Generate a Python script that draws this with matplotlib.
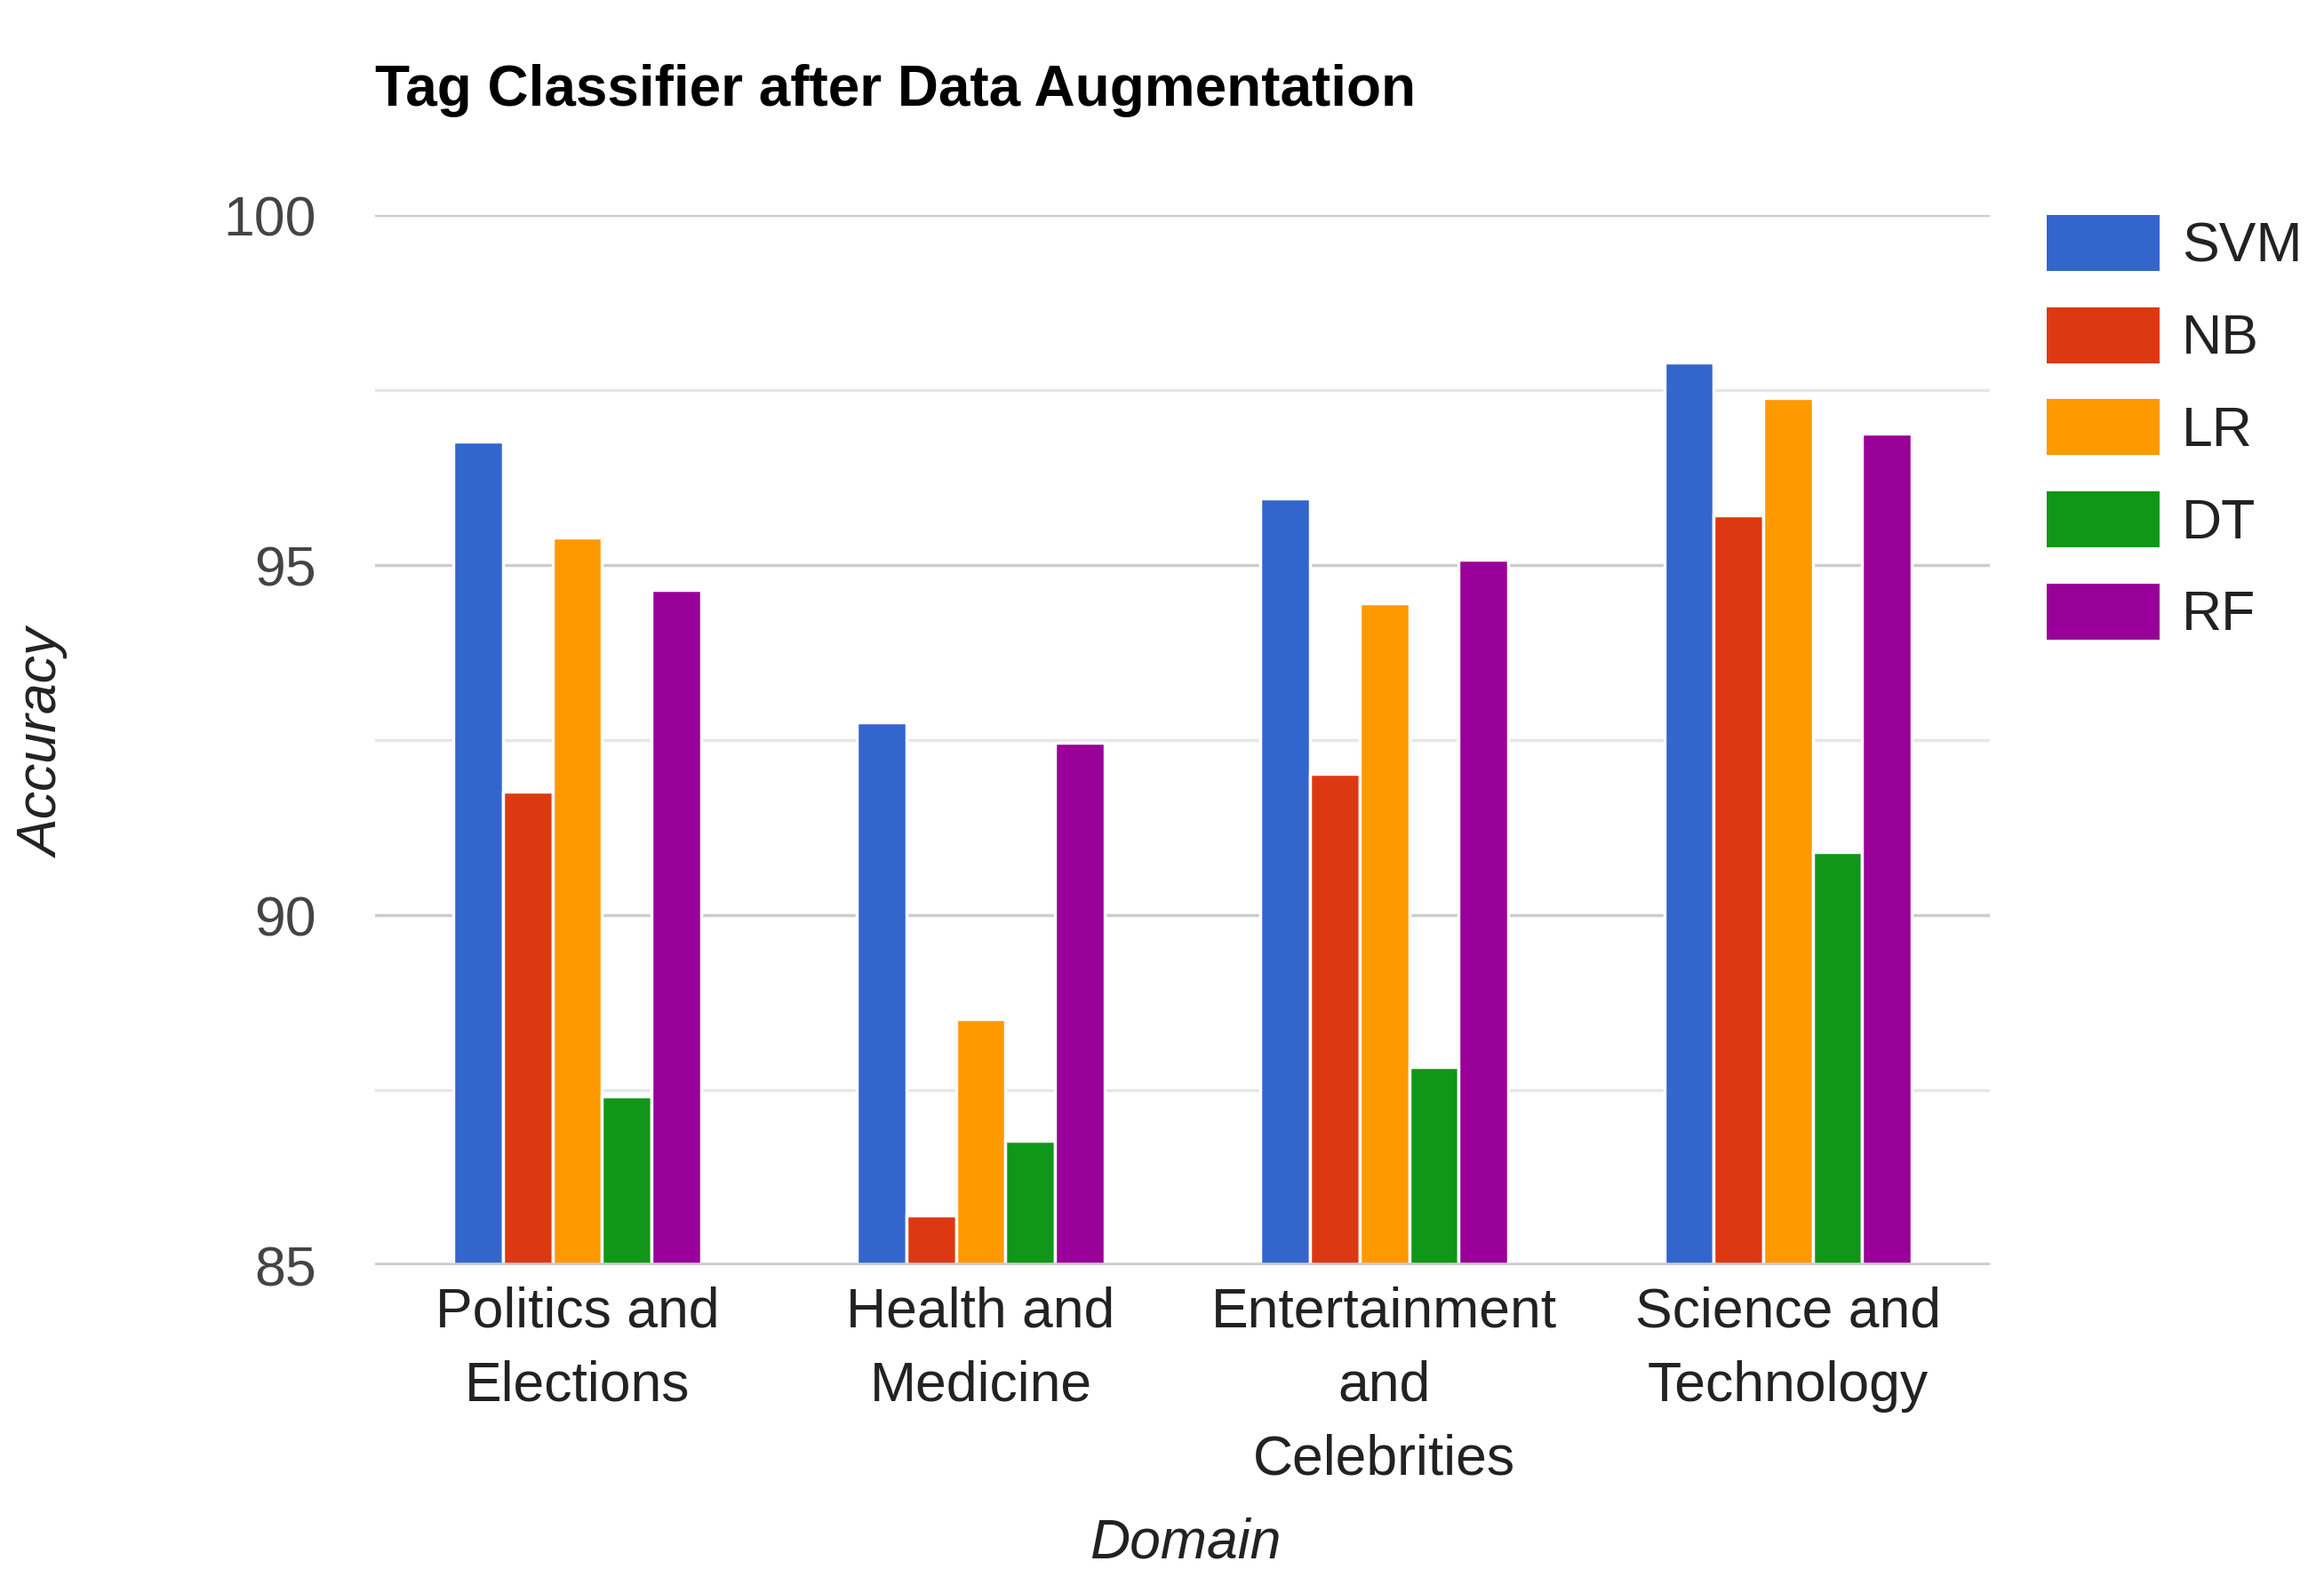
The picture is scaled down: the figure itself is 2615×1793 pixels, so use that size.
import matplotlib.pyplot as plt
import numpy as np
from matplotlib.patches import Patch

plt.rcParams['font.family'] = ['Liberation Sans', 'DejaVu Sans']

# Data
domains = ['Politics and\nElections', 'Health and\nMedicine',
           'Entertainment\nand\nCelebrities', 'Science and\nTechnology']
models = ['SVM', 'NB', 'LR', 'DT', 'RF']
svm = [96.77, 92.76, 95.95, 97.90]
nb = [91.77, 85.72, 92.02, 95.71]
lr = [95.40, 88.52, 94.46, 97.39]
dt = [87.42, 86.78, 87.84, 90.90]
rf = [94.65, 92.47, 95.08, 96.88]
series = [svm, nb, lr, dt, rf]
colors = ['#3366CC', '#DC3912', '#FF9900', '#109618', '#990099']

fig = plt.figure(figsize=(26.15, 17.93), dpi=100)
ax = fig.add_axes([0.1615, 0.2056, 0.6947, 0.6594])

x = np.arange(len(domains))
w = 0.1227
for i, (vals, c) in enumerate(zip(series, colors)):
    ax.bar(x + (i - 2) * w, np.array(vals) - 85, bottom=85, width=w,
           color=c, edgecolor='white', linewidth=2.5, zorder=3)

ax.set_xlim(-0.5, 3.5)
ax.set_ylim(85, 100)
ax.set_yticks([85, 90, 95, 100])
ax.set_yticks([87.5, 92.5, 97.5], minor=True)
ax.grid(axis='y', which='major', color='#cccccc', linewidth=2.5, zorder=0)
ax.grid(axis='y', which='minor', color='#e6e6e6', linewidth=2.5, zorder=0)
ax.axhline(85, color='#cccccc', linewidth=4, zorder=4)
for s in ax.spines.values():
    s.set_visible(False)
ax.tick_params(axis='y', which='both', length=0, pad=48, labelsize=45, labelcolor='#444444')
ax.tick_params(axis='x', length=0, pad=17, labelsize=45, labelcolor='#222222')
ax.set_xticks(x)
ax.set_xticklabels(domains, linespacing=1.52)

fig.text(0.1615, 0.943, 'Tag Classifier after Data Augmentation', fontsize=46,
         fontweight='bold', color='#000000', ha='left', va='center')
fig.text(0.019, 0.533, 'Accuracy', fontsize=45, style='italic', color='#222222',
         rotation=90, ha='center', va='center')
fig.text(0.510, 0.031, 'Domain', fontsize=45, style='italic', color='#222222',
         ha='center', va='center')

handles = [Patch(facecolor=c, edgecolor='none') for c in colors]
fig.legend(handles, models, loc='upper left', bbox_to_anchor=(0.8805, 0.865),
           frameon=False, fontsize=45, handlelength=2.04, handleheight=1.17,
           handletextpad=0.4, labelspacing=0.61, borderpad=0, borderaxespad=0,
           labelcolor='#222222')

fig.savefig('out.png', dpi=100)
